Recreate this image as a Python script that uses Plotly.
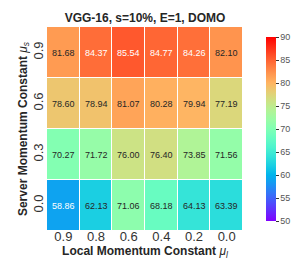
import math
import plotly.graph_objects as go

x_labels = ["0.9", "0.8", "0.6", "0.4", "0.2", "0.0"]
y_labels = ["0.0", "0.3", "0.6", "0.9"]
row_00 = [58.86, 62.13, 71.06, 68.18, 64.13, 63.39]
row_03 = [70.27, 71.72, 76.00, 76.40, 73.85, 71.56]
row_06 = [78.60, 78.94, 81.07, 80.28, 79.94, 77.19]
row_09 = [81.68, 84.37, 85.54, 84.77, 84.26, 82.10]
z = [row_00, row_03, row_06, row_09]
vmin, vmax = 50, 90
cb_ticks = [50, 55, 60, 65, 70, 75, 80, 85, 90]


def rainbow(t):
    r = min(1.0, abs(2 * t - 0.5))
    g = math.sin(math.pi * t)
    b = math.cos(math.pi / 2 * t)
    return r, g, b


def to_css(c):
    return "rgb(%d,%d,%d)" % tuple(round(255 * v) for v in c)


def lum(c):
    def lin(v):
        return v / 12.92 if v <= 0.03928 else ((v + 0.055) / 1.055) ** 2.4
    r, g, b = (lin(v) for v in c)
    return 0.2126 * r + 0.7152 * g + 0.0722 * b


n = 20
colorscale = [[i / n, to_css(rainbow(i / n))] for i in range(n + 1)]

fig = go.Figure(go.Heatmap(
    z=z, x=x_labels, y=y_labels,
    zmin=vmin, zmax=vmax, colorscale=colorscale,
    xgap=1, ygap=1,
    colorbar=dict(
        x=1.068, xanchor="left", y=0.5, yanchor="middle", len=1.0, lenmode="fraction",
        thickness=10, outlinewidth=0,
        tickvals=cb_ticks, ticks="outside", ticklen=3, tickwidth=1, tickcolor="#333",
        tickfont=dict(family="Liberation Sans, Arial", size=9, color="#555"),
    ),
    hoverinfo="skip",
))

annotations = []
for yi, row in enumerate(z):
    for xi, v in enumerate(row):
        c = rainbow((v - vmin) / (vmax - vmin))
        col = "#262626" if lum(c) > 0.408 else "white"
        annotations.append(dict(
            x=xi, y=yi, xref="x", yref="y", text="%.2f" % v, showarrow=False,
            font=dict(family="Liberation Sans, Arial", size=9, color=col),
        ))

fig.update_layout(
    width=305, height=263,
    margin=dict(l=39, r=47, t=19, b=40),
    paper_bgcolor="white", plot_bgcolor="white",
    title=dict(text="<b>VGG-16, s=10%, E=1, DOMO</b>", x=0.5, xref="paper", xanchor="center",
               y=1 - 10 / 263, yanchor="middle",
               font=dict(family="Liberation Sans, Arial", size=12, color="#262626")),
    annotations=annotations,
    xaxis=dict(
        type="category", showgrid=False, zeroline=False, ticks="", ticklabelstandoff=-4,
        tickfont=dict(family="Liberation Sans, Arial", size=13, color="#333"),
        title=dict(text="<b>Local Momentum Constant </b><i>μ<sub>l</sub></i>", standoff=0,
                   font=dict(family="Liberation Sans, Arial", size=12, color="#262626")),
    ),
    yaxis=dict(
        type="category", showgrid=False, zeroline=False, ticks="", tickangle=-90,
        tickfont=dict(family="Liberation Sans, Arial", size=13, color="#333"),
        title=dict(text="<b>Server Momentum Constant </b><i>μ<sub>s</sub></i>", standoff=0,
                   font=dict(family="Liberation Sans, Arial", size=12, color="#262626")),
    ),
)

fig.write_html("out.html")
